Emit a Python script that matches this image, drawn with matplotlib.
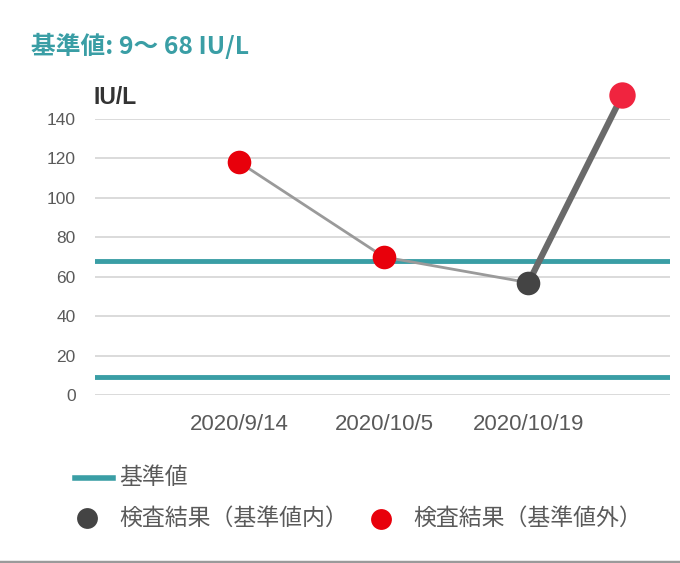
import matplotlib
matplotlib.use("Agg")
import matplotlib.pyplot as plt
from matplotlib.lines import Line2D

plt.rcParams['font.family'] = ['Noto Sans CJK JP', 'DejaVu Sans']
latin = ['Liberation Sans', 'Noto Sans CJK JP']

dates = ["2020/9/14", "2020/10/5", "2020/10/19"]
values = [118, 70, 57]
in_range = [False, False, True]
new_x = 2.65
new_value = 152
ref_low = 9
ref_high = 68
yticks = [0, 20, 40, 60, 80, 100, 120, 140]

teal = "#3a9ea5"
fig = plt.figure(figsize=(6.8, 5.63), dpi=100)
ax = fig.add_axes([95/680, 1-395/563, (670-95)/680, (395-119)/563])

xs = list(range(len(dates)))
for y in yticks:
    ax.axhline(y, color="#d4d4d4", lw=1.2, zorder=1)
ax.axhline(ref_high, color=teal, lw=3.5, zorder=2)
ax.axhline(ref_low, color=teal, lw=3.5, zorder=2)

ax.plot(xs, values, color="#9a9a9a", lw=2, zorder=3)
ax.plot([xs[-1], new_x], [values[-1], new_value], color="#6a6a6a", lw=4.5,
        zorder=3, clip_on=False, solid_capstyle="butt")
for x, v, ok in zip(xs, values, in_range):
    ax.plot(x, v, "o", ms=17, color="#444444" if ok else "#e8000b",
            mec="none", zorder=5, clip_on=False)
ax.plot(new_x, new_value, "o", ms=19, color="#f0243f", mec="none",
        zorder=5, clip_on=False)

ax.set_xlim(-1, 2.98)
ax.set_ylim(0, 140)
ax.set_xticks(xs)
ax.set_xticklabels(dates, fontsize=16, color="#5a5a5a", family=latin)
ax.set_yticks(yticks)
ax.set_yticklabels([str(y) for y in yticks], fontsize=12.5, color="#5a5a5a", family=latin)
ax.tick_params(axis="both", length=0)
ax.tick_params(axis="x", pad=14)
ax.tick_params(axis="y", pad=14)
for s in ax.spines.values():
    s.set_visible(False)

fig.text(31/680, 1-46/563, "基準値: 9～ 68 IU/L", fontsize=17.8, fontweight="bold",
         color=teal, va="center", ha="left")
fig.text(93/680, 1-97/563, "IU/L", fontsize=16.5, fontweight="bold",
         color="#333333", va="center", ha="left", family=latin)

# legend
fig.add_artist(Line2D([75/680, 113/680], [1-478/563, 1-478/563], color=teal, lw=4))
fig.text(119/680, 1-478/563, "基準値", fontsize=16.5, color="#5a5a5a", va="center")
fig.add_artist(Line2D([87/680], [1-518/563], marker="o", ms=15, color="#444444", mec="none"))
fig.text(119/680, 1-518/563, "検査結果（基準値内）", fontsize=16.5, color="#5a5a5a", va="center")
fig.add_artist(Line2D([381/680], [1-519/563], marker="o", ms=15, color="#e8000b", mec="none"))
fig.text(413/680, 1-518/563, "検査結果（基準値外）", fontsize=16.5, color="#5a5a5a", va="center")

fig.add_artist(Line2D([0, 1], [1-561.5/563, 1-561.5/563], color="#9a9a9a", lw=2.5))

fig.savefig("out.png", dpi=100)
